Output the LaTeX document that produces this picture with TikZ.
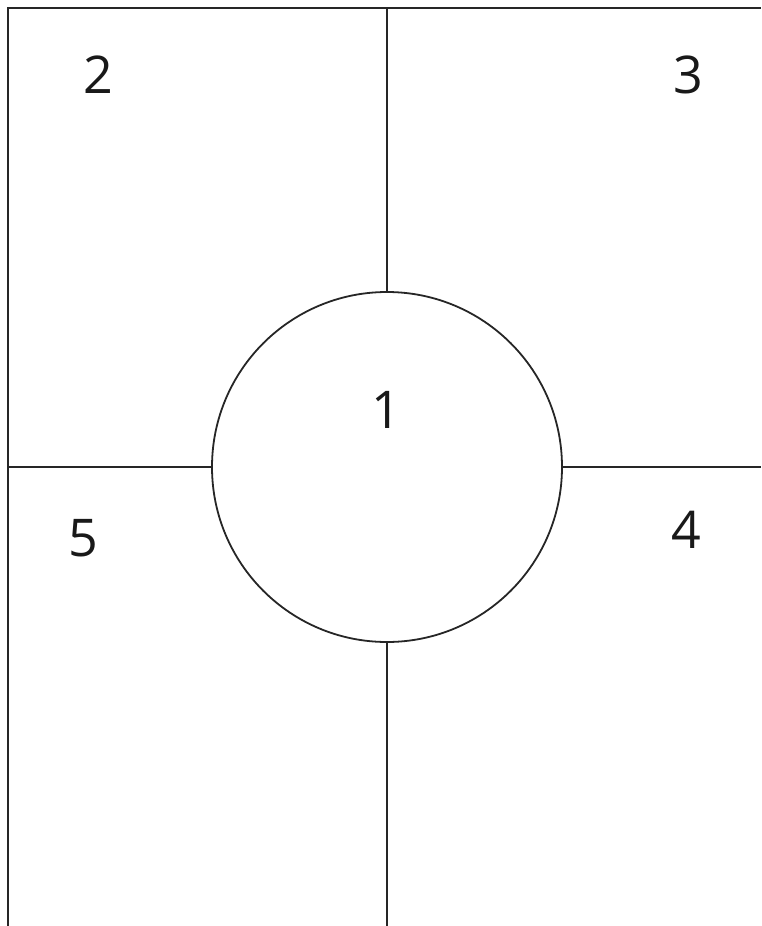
\documentclass[tikz,border=0pt]{standalone}
\usepackage{fontspec}
\setmainfont{Open Sans}
\begin{document}
\begin{tikzpicture}[x=1pt,y=-1pt,
  ln/.style={line width=1.8pt, color=black!85},
  num/.style={font=\fontsize{52}{52}\selectfont, inner sep=0pt, text=black!90}]
\useasboundingbox (0,0) rectangle (761,926);
\node[ln, draw, circle, minimum size=350pt, inner sep=0pt] (c1) at (387,467) {};
\coordinate (tl) at (8,8);
\coordinate (tr) at (761,8);
\coordinate (bl) at (8,926);
\coordinate (top) at (387,8);
\coordinate (bot) at (387,926);
\coordinate (lft) at (8,467);
\coordinate (rgt) at (761,467);
\draw[ln] (bl) -- (tl) -- (tr);
\draw[ln] (top) -- (c1.north);
\draw[ln] (c1.south) -- (bot);
\draw[ln] (lft) -- (c1.west);
\draw[ln] (c1.east) -- (rgt);
\node[num] (n1) at (386,410) {1};
\node[num] (n2) at (98,75) {2};
\node[num] (n3) at (688,75) {3};
\node[num] (n4) at (686,530) {4};
\node[num] (n5) at (83,538) {5};
\end{tikzpicture}
\end{document}
